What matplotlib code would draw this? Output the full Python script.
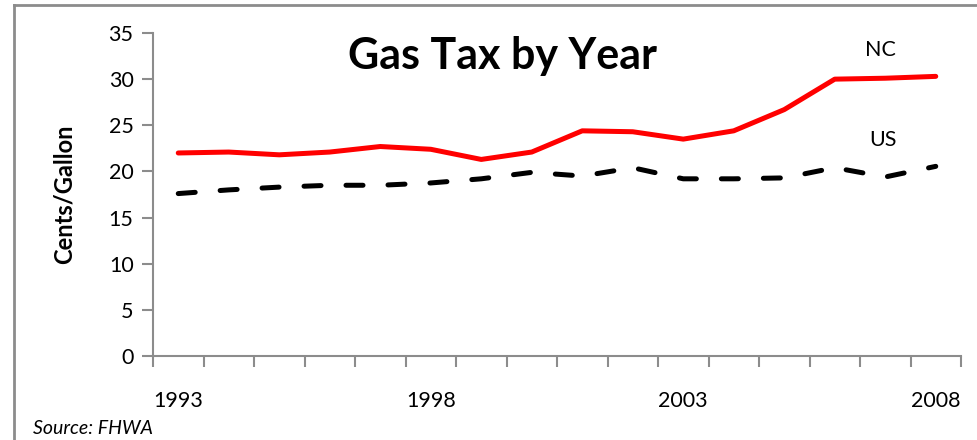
import matplotlib
matplotlib.use("Agg")
import matplotlib.pyplot as plt
from matplotlib.lines import Line2D
import numpy as np

plt.rcParams['font.family'] = ['Lato', 'DejaVu Sans']

years = list(range(1993, 2009))
nc_tax = [22.0, 22.1, 21.8, 22.1, 22.7, 22.4, 21.3, 22.1,
          24.4, 24.3, 23.5, 24.4, 26.7, 30.0, 30.1, 30.3]
us_tax = [17.6, 18.0, 18.3, 18.5, 18.5, 18.75, 19.2, 19.9,
          19.5, 20.4, 19.2, 19.2, 19.3, 20.4, 19.4, 20.55]
year_labels = ["1993", "1998", "2003", "2008"]

fig = plt.figure(figsize=(9.77, 4.40), dpi=100)
ax = fig.add_axes([153 / 977, 1 - 356 / 440, 808 / 977, 323 / 440])

x = np.arange(len(years))
ax.plot(x, nc_tax, color="#ff0000", lw=3.6, solid_capstyle="round")
ax.plot(x, us_tax, color="black", lw=3.6, linestyle=(0, (3.4, 5.0)),
        dash_capstyle="round")

ax.set_xlim(-0.5, len(years) - 0.5)
ax.set_ylim(0, 35)
ax.set_yticks(range(0, 36, 5))

# category boundaries as tick marks, labels every 5 years
ax.set_xticks(np.arange(-0.5, len(years)), minor=True)
ax.set_xticks([years.index(int(y)) for y in year_labels])
ax.set_xticklabels(year_labels)
ax.tick_params(axis="x", which="major", length=0, pad=25, labelsize=15.5)
ax.tick_params(axis="x", which="minor", length=8, width=1.5, color="#8c8c8c")
ax.tick_params(axis="y", length=8, width=1.5, color="#8c8c8c", pad=6,
               labelsize=15.5)

for side in ["top", "right"]:
    ax.spines[side].set_visible(False)
for side in ["left", "bottom"]:
    ax.spines[side].set_color("#8c8c8c")
    ax.spines[side].set_linewidth(1.5)

ax.set_ylabel("Cents/Gallon", fontsize=17, fontweight="bold", labelpad=24)

fig.text(502 / 977, 1 - 56 / 440, "Gas Tax by Year", fontsize=31,
         fontweight="bold", ha="center", va="center")
ax.text(13.9, 33.2, "NC", fontsize=15.5, ha="center", va="center")
ax.text(13.95, 23.4, "US", fontsize=15.5, ha="center", va="center")
fig.text(33 / 977, 1 - 428 / 440, "Source: FHWA", fontsize=14,
         style="italic", ha="left", va="center")

# outer chart frame
fig.add_artist(Line2D([14 / 977, 14 / 977], [0, 1 - 5 / 440],
                      color="#8c8c8c", lw=2))
fig.add_artist(Line2D([14 / 977, 1], [1 - 5 / 440, 1 - 5 / 440],
                      color="#8c8c8c", lw=2))

fig.savefig("out.png", dpi=100)
